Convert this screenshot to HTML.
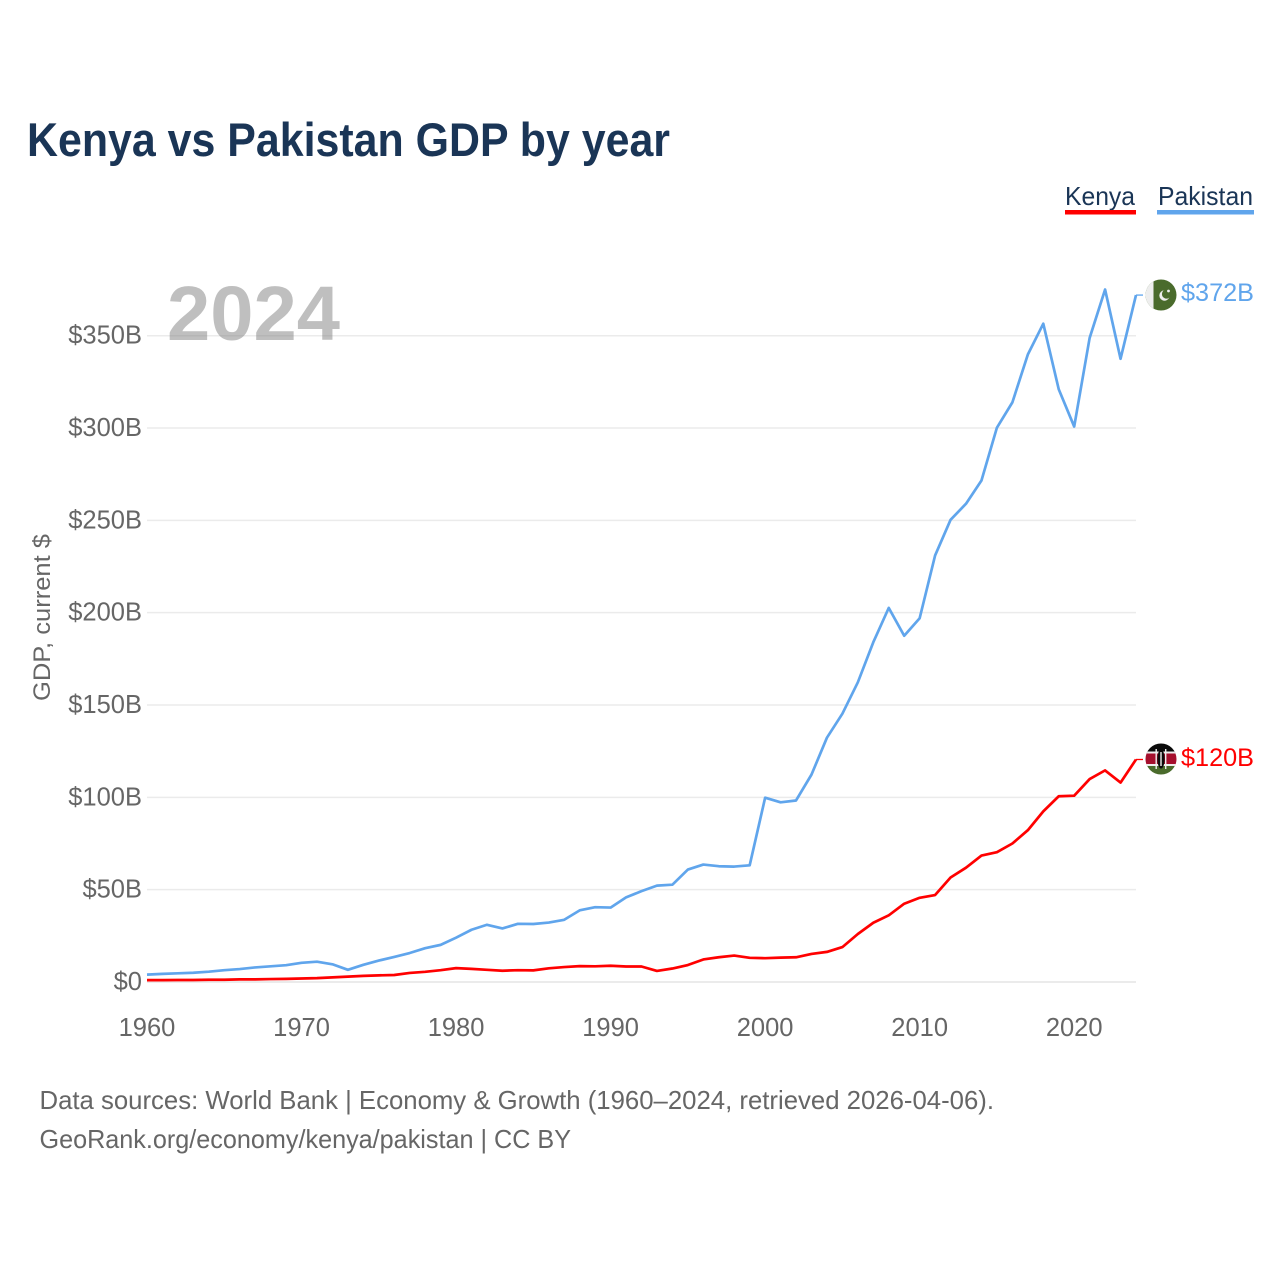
<!DOCTYPE html>
<html lang="en">
<head>
<meta charset="utf-8">
<title>Kenya vs Pakistan GDP by year</title>
<style>
html,body{margin:0;padding:0;background:#fff;}
svg{display:block;}
text{font-family:"Liberation Sans",sans-serif;}
</style>
</head>
<body>
<svg id="chart" width="1280" height="1280" viewBox="0 0 1280 1280" xmlns="http://www.w3.org/2000/svg">
  <rect width="1280" height="1280" fill="#ffffff"/>
  <defs>
    <clipPath id="flag-clip-pk"><circle cx="1161" cy="295" r="15.5"/></clipPath>
    <clipPath id="flag-clip-ke"><circle cx="1161" cy="759" r="15.5"/></clipPath>
  </defs>
  <g id="grid"></g>
  <text x="167" y="340" font-size="77" font-weight="700" fill="#7f7f7f" fill-opacity="0.5" textLength="173" lengthAdjust="spacingAndGlyphs">2024</text>
  <g id="y-ticks"></g>
  <g id="x-ticks"></g>
  <g id="series"></g>

  <text x="27" y="156" font-size="47" font-weight="700" fill="#1a3556" textLength="643" lengthAdjust="spacingAndGlyphs">Kenya vs Pakistan GDP by year</text>

  <g>
    <text x="1065" y="205" font-size="26" fill="#1a3556" textLength="70" lengthAdjust="spacingAndGlyphs">Kenya</text>
    <rect x="1065" y="210" width="71" height="4.5" fill="#ff0000"/>
  </g>
  <g>
    <text x="1158" y="205" font-size="26" fill="#1a3556" textLength="95" lengthAdjust="spacingAndGlyphs">Pakistan</text>
    <rect x="1157" y="210" width="97" height="4.5" fill="#60a5ec"/>
  </g>

  <text transform="translate(50,701) rotate(-90)" x="0" y="0" font-size="24" fill="#666666" textLength="167" lengthAdjust="spacingAndGlyphs">GDP, current $</text>

  <g clip-path="url(#flag-clip-pk)">
    <rect x="1145" y="279" width="32" height="32" fill="#4a6b2c"/>
    <rect x="1145" y="279" width="8.5" height="32" fill="#eeeeee"/>
    <circle cx="1164.5" cy="295.5" r="5.2" fill="#eeeeee"/>
    <circle cx="1166.5" cy="294" r="4.6" fill="#4a6b2c"/>
    <circle cx="1168.5" cy="291" r="1.4" fill="#eeeeee"/>
  </g>
  <g clip-path="url(#flag-clip-ke)">
    <rect x="1145" y="743" width="32" height="10" fill="#0b0b0b"/>
    <rect x="1145" y="753" width="32" height="12" fill="#a50f2d"/>
    <rect x="1145" y="765" width="32" height="11" fill="#4a6b2c"/>
    <rect x="1145" y="751.5" width="32" height="2" fill="#eeeeee"/>
    <rect x="1145" y="764" width="32" height="2" fill="#eeeeee"/>
    <ellipse cx="1161" cy="759" rx="3.6" ry="9.5" fill="#0b0b0b"/>
    <rect x="1155.5" y="749" width="1.4" height="20" fill="#eeeeee"/>
    <rect x="1165" y="749" width="1.4" height="20" fill="#eeeeee"/>
    <rect x="1160.3" y="752" width="1.4" height="14" fill="#eeeeee"/>
  </g>

  <text x="1181" y="301" font-size="25" fill="#60a5ec" textLength="73" lengthAdjust="spacingAndGlyphs">$372B</text>
  <text x="1181" y="766" font-size="25" fill="#ff0000" textLength="73" lengthAdjust="spacingAndGlyphs">$120B</text>

  <text x="39.5" y="1109" font-size="26" fill="#666666" textLength="954.5" lengthAdjust="spacingAndGlyphs">Data sources: World Bank | Economy &amp; Growth (1960–2024, retrieved 2026-04-06).</text>
  <text x="39.5" y="1148" font-size="26" fill="#666666" textLength="531.5" lengthAdjust="spacingAndGlyphs">GeoRank.org/economy/kenya/pakistan | CC BY</text>
</svg>
<script>
const firstYear = 1960;
const xTickYears = [1960, 1970, 1980, 1990, 2000, 2010, 2020];
const yTickValues = [0, 50, 100, 150, 200, 250, 300, 350];
const yTickLabels = ["$0", "$50B", "$100B", "$150B", "$200B", "$250B", "$300B", "$350B"];
const pakistanGdp = [4,4.4,4.7,5,5.6,6.4,7,7.9,8.5,9.1,10.4,11,9.6,6.6,9.3,11.6,13.6,15.7,18.3,20.1,24,28.3,31,29,31.5,31.4,32.2,33.7,38.8,40.5,40.3,45.8,49.2,52.2,52.7,60.9,63.6,62.7,62.5,63.2,99.8,97.3,98.3,112.3,132.3,145.3,162.3,184,202.6,187.5,197,231,250.3,259,271.6,300.2,313.9,339.8,356.5,321,300.8,348.8,375,337.5,372];
const kenyaGdp = [1,1,1.1,1.1,1.2,1.2,1.4,1.4,1.6,1.7,1.9,2.1,2.5,2.9,3.3,3.6,3.8,4.9,5.5,6.4,7.5,7.1,6.6,6.1,6.4,6.3,7.4,8.1,8.6,8.5,8.8,8.4,8.4,6,7.3,9.2,12.2,13.4,14.3,13.1,12.9,13.2,13.4,15.2,16.3,18.9,26,32.1,36.1,42.4,45.6,47.1,56.6,61.9,68.5,70.3,75,82.2,92.4,100.6,100.9,109.9,114.6,108,120.5];

const NS = 'http://www.w3.org/2000/svg';
function xScale(year) { return 147 + (year - 1960) * (1136 - 147) / 64; }
function yScale(value) { return 982 - value * (982 - 335.7) / 350; }

const grid = document.getElementById('grid');
const yTicks = document.getElementById('y-ticks');
const xTicks = document.getElementById('x-ticks');
const series = document.getElementById('series');

yTickValues.forEach(function (v, i) {
  const line = document.createElementNS(NS, 'line');
  
  
  line.setAttribute('x1', 147);
  line.setAttribute('x2', 1136);
  line.setAttribute('y1', yScale(v));
  line.setAttribute('y2', yScale(v));
  line.setAttribute('stroke', '#ebebeb');
  line.setAttribute('stroke-width', v === 0 ? 2 : 1.5);
  grid.appendChild(line);

  const t = document.createElementNS(NS, 'text');
  
  
  t.setAttribute('x', 142);
  t.setAttribute('y', yScale(v) + 8);
  t.setAttribute('font-size', 25.5);
  t.setAttribute('fill', '#666666');
  t.setAttribute('text-anchor', 'end');
  t.textContent = yTickLabels[i];
  yTicks.appendChild(t);
});

xTickYears.forEach(function (year) {
  const t = document.createElementNS(NS, 'text');
  
  
  t.setAttribute('x', xScale(year));
  t.setAttribute('y', 1036);
  t.setAttribute('font-size', 25.5);
  t.setAttribute('fill', '#666666');
  t.setAttribute('text-anchor', 'middle');
  t.textContent = String(year);
  xTicks.appendChild(t);
});

function pointsFor(values) {
  return values.map(function (v, i) {
    return xScale(firstYear + i).toFixed(2) + ',' + yScale(v).toFixed(2);
  }).join(' ');
}

const pakistanLine = document.createElementNS(NS, 'polyline');


pakistanLine.setAttribute('points', pointsFor(pakistanGdp));
pakistanLine.setAttribute('fill', 'none');
pakistanLine.setAttribute('stroke', '#60a5ec');
pakistanLine.setAttribute('stroke-width', 2.7);
pakistanLine.setAttribute('stroke-linejoin', 'round');
series.appendChild(pakistanLine);

const kenyaLine = document.createElementNS(NS, 'polyline');


kenyaLine.setAttribute('points', pointsFor(kenyaGdp));
kenyaLine.setAttribute('fill', 'none');
kenyaLine.setAttribute('stroke', '#ff0000');
kenyaLine.setAttribute('stroke-width', 2.7);
kenyaLine.setAttribute('stroke-linejoin', 'round');
series.appendChild(kenyaLine);

const pakistanConnector = document.createElementNS(NS, 'line');


pakistanConnector.setAttribute('x1', xScale(2024));
pakistanConnector.setAttribute('x2', 1143);
pakistanConnector.setAttribute('y1', yScale(pakistanGdp[pakistanGdp.length - 1]));
pakistanConnector.setAttribute('y2', yScale(pakistanGdp[pakistanGdp.length - 1]));
pakistanConnector.setAttribute('stroke', '#60a5ec');
pakistanConnector.setAttribute('stroke-width', 1.3);
series.appendChild(pakistanConnector);

const kenyaConnector = document.createElementNS(NS, 'line');


kenyaConnector.setAttribute('x1', xScale(2024));
kenyaConnector.setAttribute('x2', 1143);
kenyaConnector.setAttribute('y1', yScale(kenyaGdp[kenyaGdp.length - 1]));
kenyaConnector.setAttribute('y2', yScale(kenyaGdp[kenyaGdp.length - 1]));
kenyaConnector.setAttribute('stroke', '#ff0000');
kenyaConnector.setAttribute('stroke-width', 1.3);
series.appendChild(kenyaConnector);
</script>
</body>
</html>
